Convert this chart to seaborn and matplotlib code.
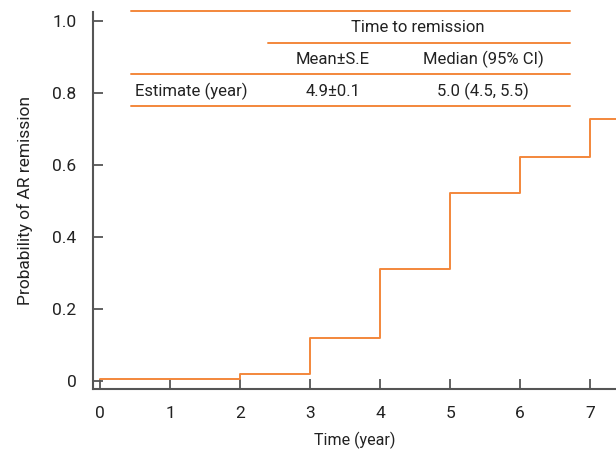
import matplotlib
matplotlib.use("Agg")
import matplotlib.pyplot as plt
import pandas as pd
import seaborn as sns
from matplotlib.lines import Line2D

# Kaplan-Meier style cumulative remission curve
times = [0, 2, 3, 4, 5, 6, 7, 7.4]
probability = [0.006, 0.021, 0.121, 0.311, 0.521, 0.622, 0.729, 0.729]

x_ticks = [0, 1, 2, 3, 4, 5, 6, 7]
y_ticks = [0, 0.2, 0.4, 0.6, 0.8, 1.0]
y_tick_labels = ["0", "0.2", "0.4", "0.6", "0.8", "1.0"]

table_title = "Time to remission"
table_headers = ["Mean\u00b1S.E", "Median (95% CI)"]
row_label = "Estimate (year)"
row_values = ["4.9\u00b10.1", "5.0 (4.5, 5.5)"]

ORANGE = "#F3873B"
AXIS_GREY = "#555555"
TEXT = "#222222"

sns.set_style("white")
plt.rcParams["font.family"] = ["Roboto", "DejaVu Sans"]

W, H = 616, 457
fig = plt.figure(figsize=(W / 100, H / 100), dpi=100)
ax = fig.add_axes([93 / W, 1 - 389 / H, 1 - 93 / W, (389 - 12) / H])

df = pd.DataFrame({"time": times, "prob": probability})
sns.lineplot(data=df, x="time", y="prob", drawstyle="steps-post",
             color=ORANGE, linewidth=1.4, ax=ax)

ax.set_xlim(-0.1, 7.37)
ax.set_ylim(-0.022, 1.025)
ax.set_xticks(x_ticks)
ax.set_yticks(y_ticks)
ax.set_yticklabels(y_tick_labels)
ax.tick_params(bottom=True, left=True, direction="in", length=7, width=1.3,
               color=AXIS_GREY, labelsize=12.5, labelcolor=TEXT)
ax.tick_params(axis="x", pad=12)
ax.tick_params(axis="y", pad=12)
for side in ["top", "right"]:
    ax.spines[side].set_visible(False)
for side in ["left", "bottom"]:
    ax.spines[side].set_color(AXIS_GREY)
    ax.spines[side].set_linewidth(1.5)

ax.set_xlabel("Time (year)", fontsize=11.5, color=TEXT, labelpad=8)
ax.set_ylabel("Probability of AR remission", fontsize=12.5, color=TEXT, labelpad=14)


# summary table drawn in figure pixels
def hline(x0, x1, y):
    fig.add_artist(Line2D([x0 / W, x1 / W], [1 - y / H, 1 - y / H],
                          color=ORANGE, linewidth=1.4))


def label(x, y, s, ha="center"):
    fig.text(x / W, 1 - y / H, s, ha=ha, va="center", fontsize=12, color=TEXT)


hline(131, 570, 11)
hline(268, 570, 43)
hline(131, 570, 74)
hline(131, 570, 106)
label(418, 28, table_title)
label(333, 59, table_headers[0])
label(483, 59, table_headers[1])
label(135, 91, row_label, ha="left")
label(333, 91, row_values[0])
label(483, 91, row_values[1])

fig.savefig("out.png", dpi=100)
